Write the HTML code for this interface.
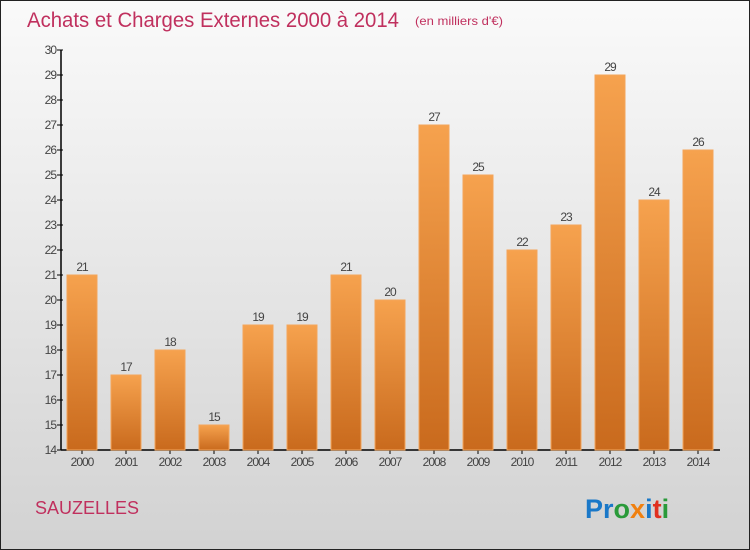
<!DOCTYPE html>
<html><head><meta charset="utf-8"><style>
html,body{margin:0;padding:0;}
svg{display:block;font-family:"Liberation Sans",sans-serif;}
</style></head><body>
<svg width="750" height="550" xmlns="http://www.w3.org/2000/svg" id="chart">
<defs>
<linearGradient id="bg" x1="0" y1="0" x2="0" y2="1"><stop offset="0" stop-color="#fafafa"/><stop offset="1" stop-color="#d2d2d2"/></linearGradient>
<linearGradient id="bar" x1="0" y1="0" x2="0" y2="1"><stop offset="0" stop-color="#f6a24e"/><stop offset="1" stop-color="#c96a1d"/></linearGradient>
</defs>
<rect x="0.5" y="0.5" width="749" height="549" fill="url(#bg)" stroke="#222"/>
<text x="27" y="27" font-size="21" fill="#c0305e" textLength="372" lengthAdjust="spacingAndGlyphs">Achats et Charges Externes 2000 à 2014</text>
<text x="415" y="25" font-size="12" fill="#c0305e" textLength="88" lengthAdjust="spacingAndGlyphs">(en milliers d'€)</text>
<g id="axes"></g>
<g id="bars"></g>
<text x="35" y="514" font-size="18" fill="#c0305e">SAUZELLES</text>
<text x="585" y="518" font-size="27" font-weight="bold"><tspan fill="#1a78c8">Pr</tspan><tspan fill="#2a9a3a">o</tspan><tspan fill="#f08010">x</tspan><tspan fill="#1a78c8">i</tspan><tspan fill="#e03020">t</tspan><tspan fill="#2a9a3a">i</tspan></text>
</svg>
<script>
const categories=["2000","2001","2002","2003","2004","2005","2006","2007","2008","2009","2010","2011","2012","2013","2014"];
const values=[21,17,18,15,19,19,21,20,27,25,22,23,29,24,26];
const yTicks=[14,15,16,17,18,19,20,21,22,23,24,25,26,27,28,29,30];
const NS="http://www.w3.org/2000/svg";
const yMin=14,yMax=30,y0=450,y1=50;
function yScale(v){return y0-(v-yMin)/(yMax-yMin)*(y0-y1);}
function xScale(i){return 82+i*44;}
function mk(tag,attrs,parent){const e=document.createElementNS(NS,tag);for(const k in attrs)e.setAttribute(k,attrs[k]);parent.appendChild(e);return e;}
const axes=document.getElementById('axes'),bars=document.getElementById('bars');
const yl=mk('line',{x1:61,y1:y1,x2:61,y2:y0,stroke:'#000','stroke-width':1.5},axes);


const xl=mk('line',{x1:61,y1:y0,x2:720,y2:y0,stroke:'#000','stroke-width':1.5},axes);


yTicks.forEach(t=>{const y=yScale(t);
 mk('line',{x1:57,y1:y,x2:63,y2:y,stroke:'#000'},axes);
 const tx=mk('text',{x:56,y:y+4,'font-size':12,fill:'#444','text-anchor':'end','letter-spacing':'-1'},axes);
 tx.textContent=t;
 
 
});
categories.forEach((c,i)=>{const x=xScale(i);
 mk('line',{x1:x,y1:y0,x2:x,y2:y0+4,stroke:'#000'},axes);
 const tx=mk('text',{x:x,y:y0+16,'font-size':12,fill:'#444','text-anchor':'middle','letter-spacing':'-1'},axes);
 tx.textContent=c;
 
 
 const v=values[i],yt=yScale(v);
 const r=mk('rect',{x:x-15,y:yt,width:30,height:y0-yt,fill:'url(#bar)',stroke:'#f4a55a','stroke-width':1},bars);
 
 
 const lb=mk('text',{x:x,y:yt-4,'font-size':12,fill:'#444','text-anchor':'middle','letter-spacing':'-1'},bars);
 lb.textContent=v;
 
 
});
</script>
</body></html>
